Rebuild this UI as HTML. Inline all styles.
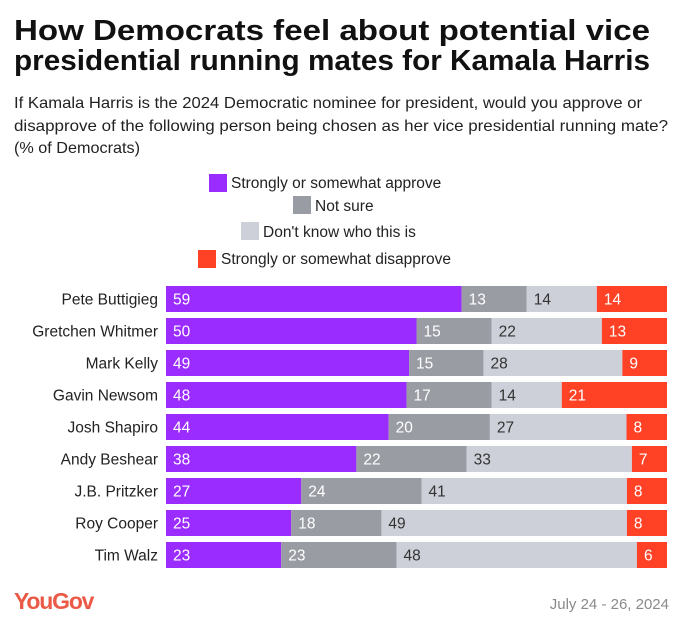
<!DOCTYPE html>
<html><head><meta charset="utf-8"><style>
html,body{margin:0;padding:0;background:#fff;width:680px;height:630px;overflow:hidden}
svg{display:block;font-family:"Liberation Sans",sans-serif}
</style></head><body>
<svg id="chart" width="680" height="630" viewBox="0 0 680 630">
<text x="14" y="40" font-size="29" font-weight="bold" fill="#111" textLength="636" lengthAdjust="spacingAndGlyphs">How Democrats feel about potential vice</text>
<text x="14" y="70" font-size="29" font-weight="bold" fill="#111" textLength="636" lengthAdjust="spacingAndGlyphs">presidential running mates for Kamala Harris</text>
<text x="14" y="108" font-size="16" fill="#222" textLength="628" lengthAdjust="spacingAndGlyphs">If Kamala Harris is the 2024 Democratic nominee for president, would you approve or</text>
<text x="14" y="131" font-size="16" fill="#222" textLength="654" lengthAdjust="spacingAndGlyphs">disapprove of the following person being chosen as her vice presidential running mate?</text>
<text x="14" y="153" font-size="16" fill="#222" textLength="126" lengthAdjust="spacingAndGlyphs">(% of Democrats)</text>
<g>
<rect x="209" y="174" width="18" height="18" fill="#9b2cff"/>
<text x="231" y="188" font-size="15.5" fill="#222">Strongly or somewhat approve</text>
<rect x="293" y="196" width="18" height="18" fill="#9a9ca4"/>
<text x="315" y="211" font-size="15.5" fill="#222">Not sure</text>
<rect x="241" y="222" width="18" height="18" fill="#cdcfd9"/>
<text x="263" y="237" font-size="15.5" fill="#222">Don't know who this is</text>
<rect x="198" y="250" width="18" height="18" fill="#ff4126"/>
<text x="221" y="264" font-size="15.5" fill="#222">Strongly or somewhat disapprove</text>
</g>
<g id="bars"></g>
<text x="14" y="609" font-size="23" font-weight="bold" fill="#ea5a47" letter-spacing="-1.2">YouGov</text>
<text x="669" y="609" font-size="15" fill="#8a8a8a" text-anchor="end">July 24 - 26, 2024</text>
</svg>
<script>
const names = ["Pete Buttigieg","Gretchen Whitmer","Mark Kelly","Gavin Newsom","Josh Shapiro","Andy Beshear","J.B. Pritzker","Roy Cooper","Tim Walz"];
const approve = [59,50,49,48,44,38,27,25,23];
const notSure = [13,15,15,17,20,22,24,18,23];
const dontKnow = [14,22,28,14,27,33,41,49,48];
const disapprove = [14,13,9,21,8,7,8,8,6];

const x0 = 166, xW = 501, y0 = 286, pitch = 32, bh = 26;
const xs = v => v / 100 * xW;
const ys = i => y0 + i * pitch;
const segColors = ["#9b2cff","#9a9ca4","#cdcfd9","#ff4126"];
const txtColors = ["#fff","#fff","#333","#fff"];
const segNames = ["approve","not-sure","dont-know","disapprove"];
const NS = "http://www.w3.org/2000/svg";
const g = document.getElementById("bars");
names.forEach((n, i) => {
  const y = ys(i);
  const lab = document.createElementNS(NS, "text");
  lab.setAttribute("x", 158); lab.setAttribute("y", y + bh/2 + 5.5);
  lab.setAttribute("text-anchor", "end"); lab.setAttribute("font-size", "15.5"); lab.setAttribute("fill", "#222");
  lab.textContent = n;
  
  
  g.appendChild(lab);
  const vals = [approve[i], notSure[i], dontKnow[i], disapprove[i]];
  const total = vals.reduce((a, b) => a + b, 0);
  let acc = 0;
  vals.forEach((v, k) => {
    const xa = x0 + xs(acc / total * 100), w = xs(v / total * 100);
    const r = document.createElementNS(NS, "rect");
    r.setAttribute("x", xa); r.setAttribute("y", y); r.setAttribute("width", w); r.setAttribute("height", bh);
    r.setAttribute("fill", segColors[k]);
    
    
    r.setAttribute("class", segNames[k]);
    g.appendChild(r);
    const t = document.createElementNS(NS, "text");
    t.setAttribute("x", xa + 7); t.setAttribute("y", y + bh/2 + 5.5);
    t.setAttribute("font-size", "15.5"); t.setAttribute("fill", txtColors[k]);
    t.textContent = v;
    
    
    g.appendChild(t);
    acc += v;
  });
});
</script>
</body></html>
